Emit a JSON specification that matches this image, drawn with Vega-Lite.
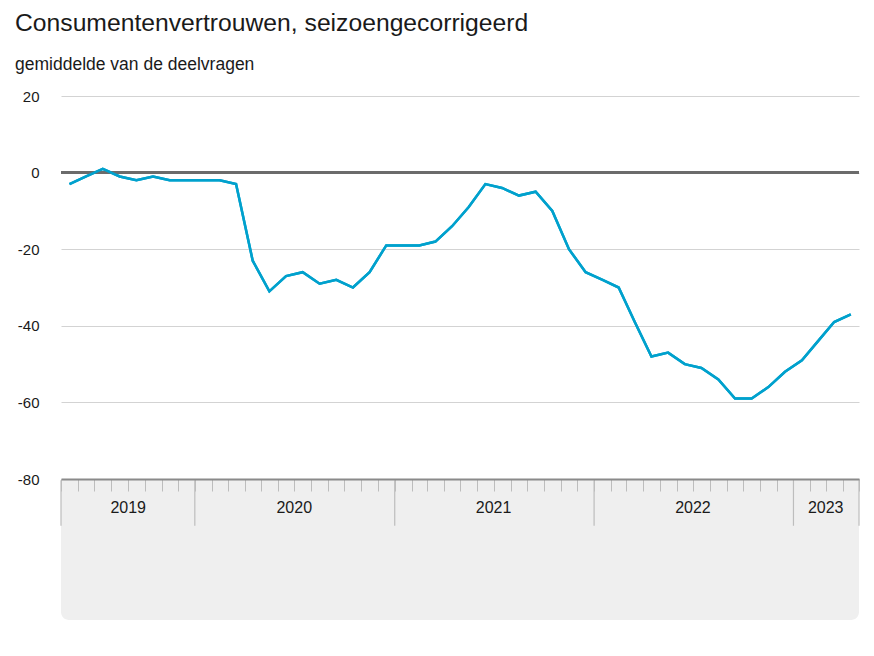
{
  "$schema": "https://vega.github.io/schema/vega-lite/v6.json",
  "autosize": "none",
  "width": 798,
  "height": 524,
  "padding": {"left": 61, "top": 96, "right": 15, "bottom": 36},
  "background": "#ffffff",
  "config": {
    "view": {"stroke": null},
    "font": "Liberation Sans"
  },
  "title": {
    "text": "Consumentenvertrouwen, seizoengecorrigeerd",
    "subtitle": "gemiddelde van de deelvragen",
    "anchor": "start",
    "frame": "group",
    "dx": -46,
    "offset": 16,
    "font": "Liberation Sans",
    "fontSize": 24.7,
    "fontWeight": "normal",
    "color": "#1a1a1a",
    "subtitleFont": "Liberation Sans",
    "subtitleFontSize": 17.5,
    "subtitleColor": "#1a1a1a",
    "subtitlePadding": 20
  },
  "datasets": {
    "series": [
      {"month": "2019-05-01", "value": -3},
      {"month": "2019-06-01", "value": -1},
      {"month": "2019-07-01", "value": 1},
      {"month": "2019-08-01", "value": -1},
      {"month": "2019-09-01", "value": -2},
      {"month": "2019-10-01", "value": -1},
      {"month": "2019-11-01", "value": -2},
      {"month": "2019-12-01", "value": -2},
      {"month": "2020-01-01", "value": -2},
      {"month": "2020-02-01", "value": -2},
      {"month": "2020-03-01", "value": -3},
      {"month": "2020-04-01", "value": -23},
      {"month": "2020-05-01", "value": -31},
      {"month": "2020-06-01", "value": -27},
      {"month": "2020-07-01", "value": -26},
      {"month": "2020-08-01", "value": -29},
      {"month": "2020-09-01", "value": -28},
      {"month": "2020-10-01", "value": -30},
      {"month": "2020-11-01", "value": -26},
      {"month": "2020-12-01", "value": -19},
      {"month": "2021-01-01", "value": -19},
      {"month": "2021-02-01", "value": -19},
      {"month": "2021-03-01", "value": -18},
      {"month": "2021-04-01", "value": -14},
      {"month": "2021-05-01", "value": -9},
      {"month": "2021-06-01", "value": -3},
      {"month": "2021-07-01", "value": -4},
      {"month": "2021-08-01", "value": -6},
      {"month": "2021-09-01", "value": -5},
      {"month": "2021-10-01", "value": -10},
      {"month": "2021-11-01", "value": -20},
      {"month": "2021-12-01", "value": -26},
      {"month": "2022-01-01", "value": -28},
      {"month": "2022-02-01", "value": -30},
      {"month": "2022-03-01", "value": -39},
      {"month": "2022-04-01", "value": -48},
      {"month": "2022-05-01", "value": -47},
      {"month": "2022-06-01", "value": -50},
      {"month": "2022-07-01", "value": -51},
      {"month": "2022-08-01", "value": -54},
      {"month": "2022-09-01", "value": -59},
      {"month": "2022-10-01", "value": -59},
      {"month": "2022-11-01", "value": -56},
      {"month": "2022-12-01", "value": -52},
      {"month": "2023-01-01", "value": -49},
      {"month": "2023-02-01", "value": -44},
      {"month": "2023-03-01", "value": -39},
      {"month": "2023-04-01", "value": -37}
    ],
    "yearBounds": [
      {"date": "2019-05-01"},
      {"date": "2020-01-01"},
      {"date": "2021-01-01"},
      {"date": "2022-01-01"},
      {"date": "2023-01-01"},
      {"date": "2023-05-01"}
    ],
    "yearLabels": [
      {"year": "2019", "mid": "2019-09-01"},
      {"year": "2020", "mid": "2020-07-01"},
      {"year": "2021", "mid": "2021-07-01"},
      {"year": "2022", "mid": "2022-07-01"},
      {"year": "2023", "mid": "2023-03-01"}
    ],
    "panel": [
      {"start": "2019-05-01", "end": "2023-05-01"}
    ]
  },
  "layer": [
    {
      "data": {"name": "panel"},
      "mark": {"type": "rect", "color": "#efefef", "cornerRadiusBottomLeft": 8, "cornerRadiusBottomRight": 8},
      "encoding": {
        "x": {"field": "start", "type": "temporal", "title": null},
        "x2": {"field": "end"},
        "y": {"datum": -80},
        "y2": {"datum": -116.8}
      }
    },
    {
      "data": {"name": "series"},
      "mark": {"type": "line", "color": "#00a1cd", "strokeWidth": 2.5, "strokeJoin": "miter"},
      "encoding": {
        "x": {
          "field": "month",
          "type": "temporal",
          "timeUnit": "utcyearmonth",
          "bandPosition": 0.5,
          "title": null,
          "scale": {
            "type": "utc",
            "domain": [
              {"year": 2019, "month": 5, "date": 1, "utc": true},
              {"year": 2023, "month": 5, "date": 1, "utc": true}
            ]
          },
          "axis": {
            "orient": "bottom",
            "offset": -141,
            "zindex": 2,
            "domain": true,
            "domainColor": "#8a8a8a",
            "domainWidth": 2,
            "ticks": true,
            "tickColor": "#bdbdbd",
            "tickSize": 12,
            "tickWidth": 1,
            "tickCount": {"interval": "month", "step": 1},
            "labels": false,
            "grid": false,
            "title": null
          }
        },
        "y": {
          "field": "value",
          "type": "quantitative",
          "title": null,
          "scale": {"domain": [-116.8, 20], "nice": false, "zero": false},
          "axis": {
            "values": [20, 0, -20, -40, -60, -80],
            "grid": true,
            "gridColor": "#d3d3d3",
            "gridWidth": 1,
            "domain": false,
            "ticks": false,
            "labelPadding": 22,
            "labelFontSize": 15,
            "labelFont": "Liberation Sans",
            "labelColor": "#1a1a1a",
            "labelExpr": "replace(datum.label, '\u2212', '-')",
            "title": null
          }
        }
      }
    },
    {
      "data": {"name": "panel"},
      "mark": {"type": "rule", "color": "#6b6b6b", "strokeWidth": 3},
      "encoding": {
        "x": {"field": "start", "type": "temporal", "title": null},
        "x2": {"field": "end"},
        "y": {"datum": 0}
      }
    },
    {
      "data": {"name": "series"},
      "mark": {"type": "line", "color": "#00a1cd", "strokeWidth": 2.5},
      "encoding": {
        "x": {"field": "month", "type": "temporal", "timeUnit": "utcyearmonth", "bandPosition": 0.5, "title": null},
        "y": {"field": "value", "type": "quantitative", "title": null}
      }
    },
    {
      "data": {"name": "yearBounds"},
      "mark": {"type": "rule", "color": "#bdbdbd", "strokeWidth": 1.2},
      "encoding": {
        "x": {"field": "date", "type": "temporal", "title": null},
        "y": {"datum": -80.3},
        "y2": {"datum": -92.2}
      }
    },
    {
      "data": {"name": "yearLabels"},
      "mark": {"type": "text", "font": "Liberation Sans", "fontSize": 16, "color": "#1a1a1a", "baseline": "middle", "align": "center"},
      "encoding": {
        "x": {"field": "mid", "type": "temporal", "title": null},
        "y": {"datum": -87.6},
        "text": {"field": "year"}
      }
    }
  ]
}
